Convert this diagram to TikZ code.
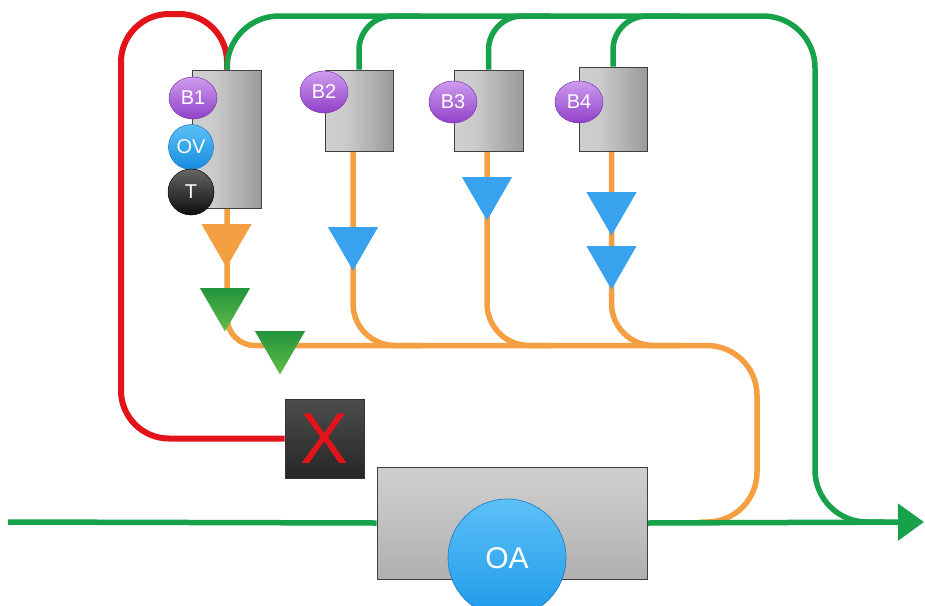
\documentclass[tikz,border=0pt]{standalone}
\usepackage{fontspec}
\setmainfont{Liberation Sans}
\usetikzlibrary{shapes.geometric,arrows.meta,backgrounds}
\definecolor{lgreen}{HTML}{17A14A}
\definecolor{lorange}{HTML}{F4A042}
\definecolor{lred}{HTML}{E2141A}
\definecolor{lblue}{HTML}{38A2EE}
\definecolor{boxA}{HTML}{D6D6D6}
\definecolor{boxB}{HTML}{CBCBCB}
\definecolor{boxC}{HTML}{8C8C8C}
\definecolor{boxD}{HTML}{9C9C9C}
\definecolor{oaTop}{HTML}{DCDCDC}
\definecolor{oaMid}{HTML}{C4C4C4}
\definecolor{oaBot}{HTML}{9E9E9E}
\pgfdeclarehorizontalshading{boxshade}{100bp}{color(0bp)=(boxA); color(40bp)=(boxB); color(85bp)=(boxC); color(100bp)=(boxD)}
\pgfdeclareverticalshading{oashade}{100bp}{color(0bp)=(oaBot); color(55bp)=(oaMid); color(100bp)=(oaTop)}
\begin{document}
\begin{tikzpicture}[x=1pt,y=-1pt,
  gline/.style={draw=lgreen, line width=5.5pt},
  oline/.style={draw=lorange, line width=5.5pt},
  rline/.style={draw=lred, line width=6pt},
  graybox/.style={rectangle, draw=black!75, line width=0.8pt, shading=boxshade, inner sep=0pt},
  oabox/.style={rectangle, draw=black!75, line width=0.8pt, shading=oashade, inner sep=0pt},
  xbox/.style={rectangle, draw=black!80, line width=0.6pt, top color=black!70, bottom color=black!85, inner sep=0pt, text=lred, font=\fontsize{72}{72}\selectfont},
  bubP/.style={ellipse, inner sep=0pt, minimum width=48pt, minimum height=42pt, top color=HTMLpurpleTop, bottom color=HTMLpurpleBot, draw=HTMLpurpleDraw, line width=0.5pt, text=white, font=\fontsize{20}{20}\selectfont},
  bubB/.style={circle, inner sep=0pt, top color=HTMLovTop, bottom color=HTMLovBot, draw=HTMLovDraw, line width=0.5pt, text=white, font=\fontsize{20}{20}\selectfont},
  bubK/.style={circle, inner sep=0pt, top color=black!60, bottom color=black!95, draw=black, line width=0.5pt, text=white, font=\fontsize{20}{20}\selectfont},
  oacirc/.style={circle, inner sep=0pt, top color=HTMLovTop, bottom color=HTMLoaBot, draw=HTMLovDraw, line width=0.6pt, text=white, font=\fontsize{30}{30}\selectfont},
  tri/.style={regular polygon, regular polygon sides=3, shape border rotate=180, minimum size=58pt, inner sep=0pt},
  gtri/.style={top color=HTMLgtTop, bottom color=HTMLgtBot},
]
\definecolor{HTMLpurpleTop}{HTML}{CF9CEF}
\definecolor{HTMLpurpleBot}{HTML}{9040C8}
\definecolor{HTMLpurpleDraw}{HTML}{7A35B0}
\definecolor{HTMLovTop}{HTML}{5CC0F6}
\definecolor{HTMLovBot}{HTML}{168CE0}
\definecolor{HTMLovDraw}{HTML}{1A78C0}
\definecolor{HTMLoaBot}{HTML}{1E9AEA}
\definecolor{HTMLgtTop}{HTML}{23943C}
\definecolor{HTMLgtBot}{HTML}{62BC48}
\useasboundingbox (0,0) rectangle (925,605);

% boxes
\node[graybox, minimum width=69pt, minimum height=138pt] (box1) at (227,139) {};
\node[graybox, minimum width=68pt, minimum height=81pt] (box2) at (359,110.5) {};
\node[graybox, minimum width=69pt, minimum height=81pt] (box3) at (488.5,110.5) {};
\node[graybox, minimum width=68pt, minimum height=84pt] (box4) at (613,109) {};
\node[oabox, minimum width=270pt, minimum height=112pt] (oabox) at (512,523) {};
\node[xbox, minimum size=79pt] (xbox) at (324.5,438.5) {X};

% bubbles
\node[bubP] (b1) at (193,98) {B1};
\node[bubB, minimum size=45pt] (ov) at (191,147) {OV};
\node[bubK, minimum size=46pt] (t) at (191,192) {T};
\node[bubP] (b2) at (324,92) {B2};
\node[bubP] (b3) at (453,102) {B3};
\node[bubP] (b4) at (579,102) {B4};
\node[oacirc, minimum size=118pt] (oa) at (507,558) {OA};

% triangles
\node[tri, fill=lorange] (to) at (226.5,238.5) {};
\node[tri, gtri] (tg1) at (225,302.5) {};
\node[tri, gtri] (tg2) at (280,345.5) {};
\node[tri, fill=lblue] (tb2) at (353,241.5) {};
\node[tri, fill=lblue] (tb3) at (487,191.5) {};
\node[tri, fill=lblue] (tb4a) at (611.5,206.5) {};
\node[tri, fill=lblue] (tb4b) at (611.5,260.5) {};

% coordinates
\coordinate (rtl) at (121,14);
\coordinate (gtr) at (815,16);
\coordinate (gbr) at (815,522);
\coordinate (gend) at (885,522);
\coordinate (in) at (8,522);
\coordinate (out) at (924,522);
\coordinate (j2) at (420,16);
\coordinate (j3) at (550,16);
\coordinate (j4) at (680,16);
\coordinate (oc) at (757,345.5);
\coordinate (ob) at (757,522);
\coordinate (oend) at (700,522);
\coordinate (k2) at (420,345.5);
\coordinate (k3) at (550,345.5);
\coordinate (k4) at (680,345.5);

\begin{scope}[on background layer]
  \draw[rline, rounded corners=48pt] (box1.north) |- (rtl) -- (rtl |- xbox.west) -- (xbox.west);
  \draw[gline, rounded corners=52pt] (box1.north) |- (gtr) -- (gbr) -- (gend);
  \draw[gline, rounded corners=34pt] (box2.north) |- (j2);
  \draw[gline, rounded corners=34pt] (box3.north) |- (j3);
  \draw[gline, rounded corners=34pt] (box4.north) |- (j4);
  \draw[oline, rounded corners=28pt] (box1.south) |- (tg2.center);
  \draw[oline, rounded corners=50pt] (tg2.center) -- (oc) -- (ob) -- (oend);
  \draw[oline, rounded corners=42pt] (box2.south -| tb2) |- (k2);
  \draw[oline, rounded corners=42pt] (box3.south -| tb3) |- (k3);
  \draw[oline, rounded corners=42pt] (box4.south -| tb4a) |- (k4);
  \draw[gline] (in) -- (oabox.west);
  \draw[gline, -{Triangle[length=26pt,width=36pt]}] (oabox.east) -- (out);
\end{scope}
\end{tikzpicture}
\end{document}
